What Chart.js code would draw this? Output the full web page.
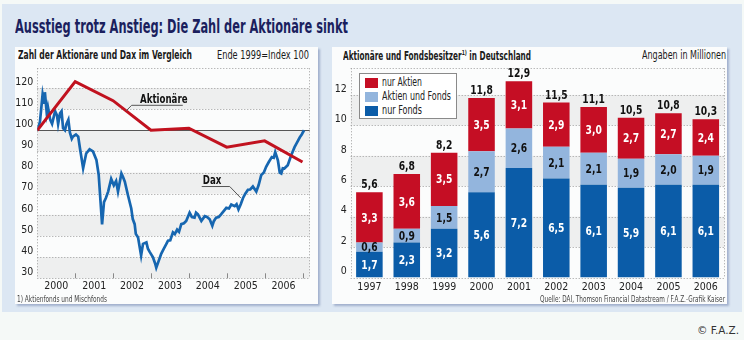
<!DOCTYPE html>
<html>
<head>
<meta charset="utf-8">
<script src="https://cdn.jsdelivr.net/npm/chart.js@4.4.1/dist/chart.umd.min.js"></script>
<style>
  body { margin:0; width:744px; height:340px; background:#f5f9f7; position:relative; overflow:hidden;
         font-family:'Liberation Sans Narrow','DejaVu Sans Condensed',sans-serif; color:#1a1a1a; }
  .frame { position:absolute; left:2px; top:4px; width:740px; height:308px; background:#dce7f3; }
  .panel { position:absolute; top:47px; height:257px; background:#fbfcfc; box-shadow:2px 2px 2px rgba(90,110,160,0.45); }
  .txt { position:absolute; white-space:nowrap; line-height:1; transform-origin:0 0; }
  .b { font-weight:bold; }
  canvas { position:absolute; }
  .legend { position:absolute; left:359px; top:73px; width:96px; height:44px; background:#fff; border:1px solid #8a8a8a; }
  .legend .sw { position:absolute; left:5px; width:13px; height:10px; }
  .legend .lt { position:absolute; left:22px; font-size:11.5px; line-height:1; white-space:nowrap; color:#222; transform-origin:0 0; }
  sup { font-size:7px; vertical-align:5px; }
</style>
</head>
<body>
<div class="frame"></div>
<div class="txt b" style="left:15px;top:16px;font-size:20px;color:#1b1f5e" data-w="333">Ausstieg trotz Anstieg: Die Zahl der Aktionäre sinkt</div>

<div class="panel" style="left:15px;width:303px"></div>
<div class="panel" style="left:332px;width:395px"></div>

<div class="txt b" style="left:18px;top:50px;font-size:11.5px" data-w="174">Zahl der Aktionäre und Dax im Vergleich</div>
<div class="txt" style="left:217px;top:50px;font-size:11.5px" data-w="92">Ende 1999=Index 100</div>
<div class="txt b" style="left:343px;top:50px;font-size:11.5px" data-w="188">Aktionäre und Fondsbesitzer<sup>1)</sup> in Deutschland</div>
<div class="txt" style="left:642px;top:50px;font-size:11.5px" data-w="84">Angaben in Millionen</div>

<canvas id="left" width="303" height="240" style="left:15px;top:58px"></canvas>
<canvas id="right" width="395" height="240" style="left:332px;top:58px"></canvas>

<div class="legend">
  <div class="sw" style="top:4px;background:#c50e24"></div><div class="lt" style="top:3px" data-w="40">nur Aktien</div>
  <div class="sw" style="top:18px;background:#93b5dd"></div><div class="lt" style="top:17px" data-w="69">Aktien und Fonds</div>
  <div class="sw" style="top:32px;background:#0b5ca8"></div><div class="lt" style="top:31px" data-w="40">nur Fonds</div>
</div>

<div class="txt" style="left:17px;top:294.5px;font-size:8.5px;color:#444" data-w="90">1) Aktienfonds und Mischfonds</div>
<div class="txt" style="left:540px;top:294.5px;font-size:8.5px;color:#444" data-w="185">Quelle: DAI, Thomson Financial Datastream / F.A.Z.-Grafik Kaiser</div>
<div class="txt" style="left:697px;top:325px;font-size:11px;color:#333" data-w="42">© F.A.Z.</div>

<script>
// Aktionäre und Fondsbesitzer in Mio.
const years = ['1997', '1998', '1999', '2000', '2001', '2002', '2003', '2004', '2005', '2006'];
const nurFonds = [1.7, 2.3, 3.2, 5.6, 7.2, 6.5, 6.1, 5.9, 6.1, 6.1];
const aktienUndFonds = [0.6, 0.9, 1.5, 2.7, 2.6, 2.1, 2.1, 1.9, 2.0, 1.9];
const nurAktien = [3.3, 3.6, 3.5, 3.5, 3.1, 2.9, 3.0, 2.7, 2.7, 2.4];
const totals = [5.6, 6.8, 8.2, 11.8, 12.9, 11.5, 11.1, 10.5, 10.8, 10.3];

// Index, Ende 1999 = 100 (x = Jahr als Dezimalzahl, 2000.0 = Ende 1999)
const aktDates = [2000, 2001, 2002, 2003, 2004, 2005, 2006, 2007];
const aktIndex = [100, 123, 114, 100, 101, 92, 95, 85];

const daxDates = [2000.00, 2000.07, 2000.14, 2000.18, 2000.20, 2000.25, 2000.28, 2000.34, 2000.39, 2000.47,
  2000.52, 2000.55, 2000.60, 2000.64, 2000.68, 2000.73, 2000.77, 2000.82, 2000.86, 2000.91,
  2000.94, 2001.02, 2001.08, 2001.13, 2001.21, 2001.29, 2001.38, 2001.47, 2001.56, 2001.62,
  2001.67, 2001.71, 2001.76, 2001.81, 2001.87, 2001.95, 2002.02, 2002.08, 2002.13, 2002.22,
  2002.26, 2002.31, 2002.39, 2002.48, 2002.52, 2002.57, 2002.60, 2002.66, 2002.74, 2002.79,
  2002.88, 2002.92, 2002.97, 2003.05, 2003.11, 2003.14, 2003.20, 2003.27, 2003.34, 2003.40,
  2003.45, 2003.51, 2003.58, 2003.63, 2003.69, 2003.74, 2003.80, 2003.87, 2003.93, 2004.02,
  2004.08, 2004.15, 2004.19, 2004.24, 2004.33, 2004.42, 2004.48, 2004.55, 2004.62, 2004.66,
  2004.72, 2004.79, 2004.85, 2004.93, 2004.99, 2005.06, 2005.12, 2005.21, 2005.26, 2005.31,
  2005.37, 2005.43, 2005.49, 2005.56, 2005.62, 2005.69, 2005.78, 2005.84, 2005.91, 2005.98,
  2006.04, 2006.11, 2006.19, 2006.24, 2006.28, 2006.35, 2006.40, 2006.44, 2006.48, 2006.52,
  2006.61, 2006.70, 2006.79, 2006.85, 2006.93, 2006.98, 2007.04];
const daxIndex = [100, 104, 117, 113, 118, 108, 111, 105, 103, 109,
  107, 103, 108, 109, 101, 100, 103, 105, 99, 96,
  97, 98, 97, 91, 82, 89, 91, 90, 86, 79,
  66, 55.5, 66, 68, 71, 77, 74, 76, 71, 79.6,
  78, 75.7, 69.5, 63, 58, 55.6, 51, 49.3, 40.8, 46.3,
  47, 44, 42.4, 40, 37, 35, 38, 41.6, 44, 46,
  47.8, 48, 51.7, 50.9, 53, 52, 55.6, 56, 57.1, 61,
  59, 58.7, 61, 60.2, 57.1, 59.4, 59, 57.9, 54.8, 57,
  58.7, 59, 60.2, 62, 63.3, 63, 64.9, 64.1, 65, 62.6,
  65, 68, 70, 71.9, 72, 73.4, 71, 74, 78.8, 80,
  82.7, 85, 87.3, 87, 89.7, 85.8, 80, 79.6, 82, 81.9,
  83.5, 88.1, 92, 94, 96.7, 98, 100];

const yearTicks = [2000, 2001, 2002, 2003, 2004, 2005, 2006, 2007];
const leftYTicks = [30, 40, 50, 60, 70, 80, 90, 100, 110, 120];
const rightYTicks = [0, 2, 4, 6, 8, 10, 12];

const FONT = "'Liberation Sans Narrow', 'DejaVu Sans Condensed', sans-serif";
Chart.defaults.font.family = FONT;
Chart.defaults.color = '#222';

// scale text to the width it has in the print graphic
document.querySelectorAll('[data-w]').forEach(function (el) {
  const w = el.getBoundingClientRect().width;
  el.style.transform = 'scaleX(' + (el.dataset.w / w) + ')';
});

function fmt(v) { return v.toFixed(1).replace('.', ','); }

// condensed text on the canvas (no narrow font available)
function narrowText(ctx, text, x, y, sx) {
  ctx.save();
  ctx.translate(x, y);
  ctx.scale(sx, 1);
  ctx.fillText(text, 0, 0);
  ctx.restore();
}

// bands, dotted grid and frame lines
const backdrop = {
  id: 'backdrop',
  beforeDatasetsDraw(chart, args, opts) {
    const ctx = chart.ctx, a = chart.chartArea, x = chart.scales.x, y = chart.scales.y;
    ctx.save();
    ctx.fillStyle = '#eeefef';
    opts.bands.forEach(function (b) {
      const t = y.getPixelForValue(b[1]), bt = y.getPixelForValue(b[0]);
      ctx.fillRect(a.left, t, a.right - a.left, bt - t);
    });
    ctx.strokeStyle = '#9c9c9c';
    ctx.lineWidth = 1;
    ctx.setLineDash([1, 2]);
    ctx.beginPath();
    y.ticks.forEach(function (t) {
      if (t.value === opts.baseLine) return;
      const py = Math.round(y.getPixelForValue(t.value)) + 0.5;
      ctx.moveTo(a.left, py); ctx.lineTo(a.right, py);
    });
    ctx.moveTo(a.left, Math.round(a.top) + 0.5); ctx.lineTo(a.right, Math.round(a.top) + 0.5);
    ctx.moveTo(Math.round(a.left) + 0.5, a.top); ctx.lineTo(Math.round(a.left) + 0.5, a.bottom);
    ctx.moveTo(Math.round(a.right) - 0.5, a.top); ctx.lineTo(Math.round(a.right) - 0.5, a.bottom);
    ctx.stroke();
    ctx.setLineDash([]);
    if (opts.baseLine !== undefined) {
      const py = Math.round(y.getPixelForValue(opts.baseLine)) + 0.5;
      ctx.strokeStyle = '#555';
      ctx.beginPath(); ctx.moveTo(a.left, py); ctx.lineTo(a.right, py); ctx.stroke();
    }
    if (opts.tickMarks) {
      ctx.strokeStyle = '#888';
      ctx.beginPath();
      x.ticks.forEach(function (t) {
        if (t.value <= x.min) return;
        const px = Math.round(x.getPixelForValue(t.value)) + 0.5;
        ctx.moveTo(px, a.bottom); ctx.lineTo(px, a.bottom - 5);
      });
      ctx.stroke();
    }
    ctx.restore();
  }
};

// line labels with leader lines
const notes = {
  id: 'notes',
  afterDatasetsDraw(chart, args, opts) {
    const ctx = chart.ctx, x = chart.scales.x, y = chart.scales.y;
    ctx.save();
    opts.items.forEach(function (n) {
      ctx.strokeStyle = '#555';
      ctx.lineWidth = 1;
      ctx.beginPath();
      n.line.forEach(function (p, i) {
        const px = x.getPixelForValue(p[0]), py = y.getPixelForValue(p[1]);
        if (i === 0) ctx.moveTo(px, py); else ctx.lineTo(px, py);
      });
      ctx.stroke();
      ctx.fillStyle = '#111';
      ctx.font = 'bold 12px ' + FONT;
      ctx.textBaseline = 'alphabetic';
      narrowText(ctx, n.text, x.getPixelForValue(n.at[0]), y.getPixelForValue(n.at[1]), 0.8);
    });
    ctx.restore();
  }
};

// values in the bar segments and totals on top
const barValues = {
  id: 'barValues',
  afterDatasetsDraw(chart) {
    const ctx = chart.ctx;
    ctx.save();
    ctx.font = 'bold 12px ' + FONT;
    ctx.textAlign = 'center';
    ctx.textBaseline = 'middle';
    chart.data.datasets.forEach(function (ds, di) {
      ctx.fillStyle = ds.labelColor;
      chart.getDatasetMeta(di).data.forEach(function (bar, i) {
        narrowText(ctx, fmt(ds.data[i]), bar.x, (bar.y + bar.base) / 2 + 1, 0.85);
      });
    });
    ctx.fillStyle = '#111';
    const top = chart.getDatasetMeta(chart.data.datasets.length - 1).data;
    top.forEach(function (bar, i) {
      narrowText(ctx, fmt(totals[i]), bar.x, bar.y - 7, 0.85);
    });
    ctx.restore();
  }
};

new Chart(document.getElementById('left'), {
  type: 'line',
  data: {
    datasets: [
      {
        label: 'Aktionäre',
        data: aktDates.map(function (d, i) { return { x: d, y: aktIndex[i] }; }),
        borderColor: '#c1121f',
        borderWidth: 3,
        pointRadius: 0,
        tension: 0
      },
      {
        label: 'Dax',
        data: daxDates.map(function (d, i) { return { x: d, y: daxIndex[i] }; }),
        borderColor: '#1666b0',
        borderWidth: 2.7,
        pointRadius: 0,
        tension: 0
      }
    ]
  },
  options: {
    responsive: false,
    animation: false,
    devicePixelRatio: 1,
    events: [],
    layout: { padding: { top: 7, right: 8.3, left: 0, bottom: 0 } },
    plugins: {
      legend: { display: false },
      tooltip: { enabled: false },
      backdrop: { bands: [[110, 120], [90, 100], [70, 80], [50, 60], [30, 40]], baseLine: 100, tickMarks: true },
      notes: {
        items: [
          { text: 'Aktionäre', at: [2002.71, 112.7], line: [[2002.34, 109.1], [2002.49, 111.8], [2003.84, 111.8]] },
          { text: 'Dax', at: [2004.37, 74.6], line: [[2004.34, 73.4], [2005.08, 73.4], [2005.37, 68.0]] }
        ]
      }
    },
    scales: {
      x: {
        type: 'linear', min: 2000, max: 2007.19, bounds: 'data',
        afterBuildTicks: function (s) { s.ticks = yearTicks.map(function (v) { return { value: v }; }); },
        afterFit: function (s) { s.height = 19.7; },
        grid: { display: false, drawTicks: false },
        border: { display: false },
        ticks: {
          autoSkip: false, maxRotation: 0, padding: 2, labelOffset: 19, font: { size: 10.5 },
          callback: function (v) { return v < 2007 ? String(v) : ''; }
        }
      },
      y: {
        min: 30, max: 129.3, bounds: 'data',
        afterBuildTicks: function (s) { s.ticks = leftYTicks.map(function (v) { return { value: v }; }); },
        afterFit: function (s) { s.width = 22.3; },
        grid: { display: false, drawTicks: false },
        border: { display: false },
        ticks: { autoSkip: false, padding: 4, labelOffset: -6, font: { size: 10.5 } }
      }
    }
  },
  plugins: [backdrop, notes]
});

new Chart(document.getElementById('right'), {
  type: 'bar',
  data: {
    labels: years,
    datasets: [
      { label: 'nur Fonds', data: nurFonds, backgroundColor: '#0b5ca8', labelColor: '#fff' },
      { label: 'Aktien und Fonds', data: aktienUndFonds, backgroundColor: '#93b5dd', labelColor: '#111' },
      { label: 'nur Aktien', data: nurAktien, backgroundColor: '#c50e24', labelColor: '#fff' }
    ]
  },
  options: {
    responsive: false,
    animation: false,
    devicePixelRatio: 1,
    events: [],
    layout: { padding: { top: 10.3, right: 2.5, left: 0, bottom: 0 } },
    datasets: { bar: { categoryPercentage: 0.71, barPercentage: 1, borderWidth: 0 } },
    plugins: {
      legend: { display: false },
      tooltip: { enabled: false },
      backdrop: { bands: [[2, 4], [6, 8], [10, 12]] }
    },
    scales: {
      x: {
        stacked: true,
        afterFit: function (s) { s.height = 20.5; },
        grid: { display: false, drawTicks: false },
        border: { display: false },
        ticks: { padding: 3, font: { size: 10.5 } }
      },
      y: {
        stacked: true, min: 0, max: 13.75, bounds: 'data',
        afterBuildTicks: function (s) { s.ticks = rightYTicks.map(function (v) { return { value: v }; }); },
        afterFit: function (s) { s.width = 18.7; },
        grid: { display: false, drawTicks: false },
        border: { display: false },
        ticks: { autoSkip: false, padding: 4, labelOffset: -6, font: { size: 10.5 } }
      }
    }
  },
  plugins: [backdrop, barValues]
});
</script>
</body>
</html>
